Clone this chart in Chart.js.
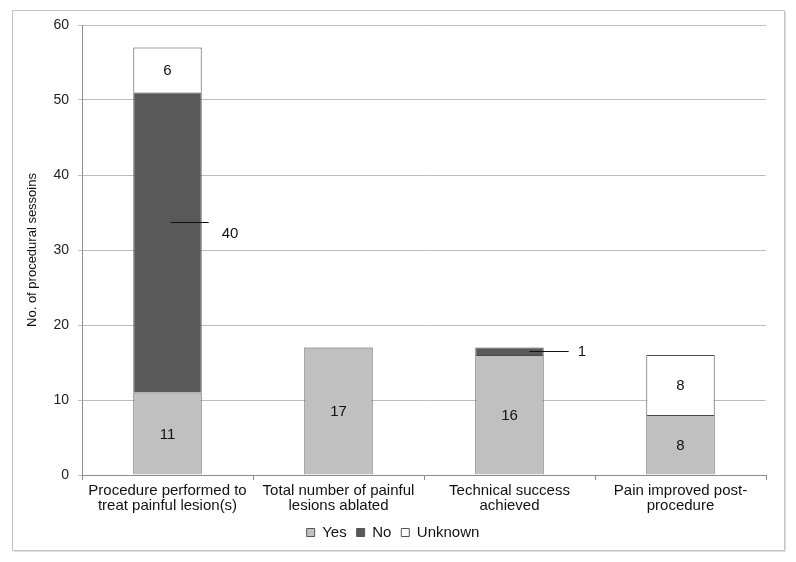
<!DOCTYPE html>
<html>
<head>
<meta charset="utf-8">
<script src="https://cdn.jsdelivr.net/npm/chart.js@4/dist/chart.umd.min.js"></script>
<style>
  html, body { margin: 0; padding: 0; background: #fff; }
  #wrap { width: 796px; height: 562px; }
</style>
</head>
<body>
<div id="wrap"><canvas id="chart" width="796" height="562"></canvas></div>
<script>
// categories (multi-line tick labels)
const categories = [
  ['Procedure performed to', 'treat painful lesion(s)'],
  ['Total number of painful', 'lesions ablated'],
  ['Technical success', 'achieved'],
  ['Pain improved post-', 'procedure']
];
const yesValues = [11, 17, 16, 8];
const noValues = [40, 0, 1, 0];
const unknownValues = [6, 0, 0, 8];
const yTicks = [0, 10, 20, 30, 40, 50, 60];

const FONT = '"Liberation Sans", Arial, sans-serif';

// outer frame around the whole figure
const framePlugin = {
  id: 'frame',
  beforeDraw(chart) {
    const ctx = chart.ctx;
    ctx.save();
    ctx.fillStyle = '#fff';
    ctx.fillRect(0, 0, chart.width, chart.height);
    ctx.strokeStyle = '#c4c4c4';
    ctx.lineWidth = 1;
    ctx.strokeRect(12.5, 10.5, 772, 540);
    ctx.strokeStyle = '#e0e0e0';
    ctx.beginPath();
    ctx.moveTo(785.5, 12); ctx.lineTo(785.5, 551.5); ctx.lineTo(14, 551.5);
    ctx.stroke();
    ctx.restore();
  }
};

// value labels, two of them pulled out with a leader line
const labelPlugin = {
  id: 'valueLabels',
  afterDatasetsDraw(chart) {
    const ctx = chart.ctx;
    ctx.save();
    ctx.font = '15px ' + FONT;
    ctx.fillStyle = '#111';
    ctx.strokeStyle = '#111';
    ctx.lineWidth = 1;
    chart.data.datasets.forEach((ds, di) => {
      const meta = chart.getDatasetMeta(di);
      meta.data.forEach((bar, i) => {
        const v = ds.data[i];
        if (!v) return;
        const cy = (bar.y + bar.base) / 2;
        const right = bar.x + bar.width / 2;
        if (di === 1 && i === 0) {
          // callout for the big dark segment
          const ly = Math.round(cy - 21) + 0.5;
          ctx.beginPath(); ctx.moveTo(bar.x + 3, ly); ctx.lineTo(right + 7, ly); ctx.stroke();
          ctx.textAlign = 'left'; ctx.textBaseline = 'middle';
          ctx.fillText(String(v), right + 20, cy - 9);
        } else if (di === 1 && i === 2) {
          const ly = Math.round(cy) + 0.5;
          ctx.beginPath(); ctx.moveTo(bar.x + 20, ly); ctx.lineTo(right + 25, ly); ctx.stroke();
          ctx.textAlign = 'left'; ctx.textBaseline = 'middle';
          ctx.fillText(String(v), right + 34, cy + 1);
        } else {
          ctx.textAlign = 'center'; ctx.textBaseline = 'middle';
          ctx.fillText(String(v), bar.x, cy + 1);
        }
      });
    });
    ctx.restore();
  }
};

const common = { borderColor: '#4a4a4a', borderWidth: 1, barPercentage: 0.8, categoryPercentage: 0.5 };

new Chart(document.getElementById('chart').getContext('2d'), {
  type: 'bar',
  data: {
    labels: categories,
    datasets: [
      { label: 'Yes', data: yesValues, backgroundColor: '#c0c0c0', ...common },
      { label: 'No', data: noValues, backgroundColor: '#595959', ...common },
      { label: 'Unknown', data: unknownValues, backgroundColor: '#ffffff', ...common }
    ]
  },
  options: {
    responsive: false,
    animation: false,
    layout: { padding: { left: 20, top: 25, right: 30, bottom: 12 } },
    plugins: {
      legend: {
        position: 'bottom',
        labels: {
          font: { family: FONT, size: 15 }, color: '#111',
          boxWidth: 8, boxHeight: 8, padding: 10,
          generateLabels(chart) {
            return chart.data.datasets.map((ds, i) => ({
              text: ds.label, fillStyle: ds.backgroundColor, strokeStyle: '#555',
              lineWidth: 1, datasetIndex: i, fontColor: '#111'
            }));
          }
        }
      },
      tooltip: { enabled: false }
    },
    scales: {
      x: {
        stacked: true,
        grid: { display: true, drawOnChartArea: false, drawTicks: true, tickLength: 5, color: '#8c8c8c', offset: true },
        border: { color: '#8c8c8c' },
        ticks: { font: { family: FONT, size: 15, lineHeight: 1.0 }, color: '#111', padding: 3, maxRotation: 0, autoSkip: false },
        afterFit(s) { s.height = 40; }
      },
      y: {
        stacked: true,
        min: 0, max: 60,
        afterBuildTicks(s) { s.ticks = yTicks.map(v => ({ value: v })); },
        grid: { color: '#bcbcbc', tickLength: 4 },
        border: { color: '#8c8c8c' },
        ticks: { font: { family: FONT, size: 14 }, color: '#222', padding: 9 },
        title: { display: true, text: 'No. of procedural sessoins', font: { family: FONT, size: 13 }, color: '#111', padding: 5 },
        afterFit(s) { s.width = 62; }
      }
    }
  },
  plugins: [framePlugin, labelPlugin]
});
</script>
</body>
</html>
